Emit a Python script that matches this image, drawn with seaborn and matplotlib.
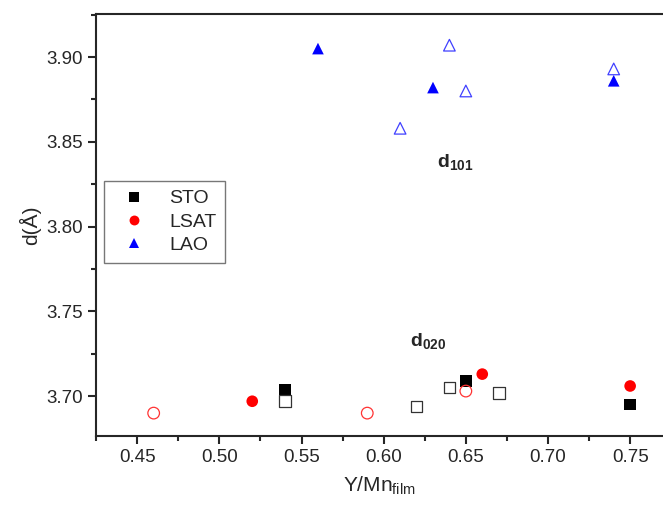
import pandas as pd
import matplotlib
matplotlib.use('Agg')
import matplotlib.pyplot as plt
import seaborn as sns
from matplotlib.ticker import MultipleLocator, FormatStrFormatter

# STO (squares)
sto_x_filled = [0.54, 0.65, 0.75]
sto_d_filled = [3.704, 3.709, 3.695]
sto_x_open = [0.54, 0.62, 0.64, 0.67]
sto_d_open = [3.697, 3.694, 3.705, 3.702]

# LSAT (circles)
lsat_x_filled = [0.52, 0.66, 0.75]
lsat_d_filled = [3.697, 3.713, 3.706]
lsat_x_open = [0.46, 0.59, 0.65]
lsat_d_open = [3.690, 3.690, 3.703]

# LAO (triangles)
lao_x_filled = [0.56, 0.63, 0.74]
lao_d_filled = [3.905, 3.882, 3.886]
lao_x_open = [0.61, 0.64, 0.65, 0.74]
lao_d_open = [3.858, 3.907, 3.880, 3.893]

substrates = ['STO', 'LSAT', 'LAO']
colors = {'STO': 'black', 'LSAT': 'red', 'LAO': 'blue'}
open_colors = {'STO': '#333333', 'LSAT': '#ff3333', 'LAO': '#4040ff'}
markers = {'STO': 's', 'LSAT': 'o', 'LAO': '^'}

filled = pd.concat([
    pd.DataFrame({'x': sto_x_filled, 'd': sto_d_filled, 'sub': 'STO'}),
    pd.DataFrame({'x': lsat_x_filled, 'd': lsat_d_filled, 'sub': 'LSAT'}),
    pd.DataFrame({'x': lao_x_filled, 'd': lao_d_filled, 'sub': 'LAO'}),
])
hollow = pd.concat([
    pd.DataFrame({'x': sto_x_open, 'd': sto_d_open, 'sub': 'STO'}),
    pd.DataFrame({'x': lsat_x_open, 'd': lsat_d_open, 'sub': 'LSAT'}),
    pd.DataFrame({'x': lao_x_open, 'd': lao_d_open, 'sub': 'LAO'}),
])

sns.set_style('ticks')
plt.rcParams['font.family'] = ['Liberation Sans', 'DejaVu Sans']
plt.rcParams['mathtext.fontset'] = 'custom'
plt.rcParams['mathtext.rm'] = 'Liberation Sans'
plt.rcParams['mathtext.bf'] = 'Liberation Sans:bold'

fig = plt.figure(figsize=(6.63, 5.08), dpi=100)
ax = fig.add_axes([96 / 663, 1 - 436 / 508, 1 - 96 / 663, (436 - 14) / 508])

# filled markers
sns.scatterplot(data=filled, x='x', y='d', hue='sub', style='sub',
                hue_order=substrates, style_order=substrates,
                palette=colors, markers=markers, s=70, linewidth=0,
                ax=ax, zorder=3)

# open markers
for sub in substrates:
    part = hollow[hollow['sub'] == sub]
    sns.scatterplot(data=part, x='x', y='d', marker=markers[sub], s=70,
                    facecolor='none', edgecolor=open_colors[sub],
                    linewidth=0.9, ax=ax, zorder=3)

ax.set_xlim(0.4249, 0.770)
ax.set_ylim(3.6765, 3.9254)
ax.xaxis.set_major_locator(MultipleLocator(0.05))
ax.xaxis.set_minor_locator(MultipleLocator(0.025))
ax.yaxis.set_major_locator(MultipleLocator(0.05))
ax.yaxis.set_minor_locator(MultipleLocator(0.025))
ax.xaxis.set_major_formatter(FormatStrFormatter('%.2f'))
ax.yaxis.set_major_formatter(FormatStrFormatter('%.2f'))

ax.tick_params(which='major', length=6, width=1.5, labelsize=13.5, direction='out')
ax.tick_params(which='minor', length=3.5, width=1.5, direction='out')
for side in ['left', 'bottom', 'top']:
    ax.spines[side].set_linewidth(1.5)
    ax.spines[side].set_visible(True)
ax.spines['right'].set_visible(False)

ax.set_xlabel('Y/Mn$_{\\mathrm{film}}$', fontsize=15, labelpad=6)
ax.set_ylabel('d(Å)', fontsize=15, labelpad=4)

ax.text(0.6435, 3.838, '$\\mathbf{d_{101}}$', fontsize=14, ha='center', va='center')
ax.text(0.627, 3.7325, '$\\mathbf{d_{020}}$', fontsize=14, ha='center', va='center')

leg = ax.legend(loc='upper left', bbox_to_anchor=(8 / 567, 1 - 167 / 422),
                borderaxespad=0, fontsize=14, frameon=True, fancybox=False,
                edgecolor='#555555', markerscale=0.85, handletextpad=0.7,
                borderpad=0.45, labelspacing=0.3, handlelength=2.2)
leg.get_frame().set_linewidth(1.0)

fig.savefig('out.png', dpi=100)
